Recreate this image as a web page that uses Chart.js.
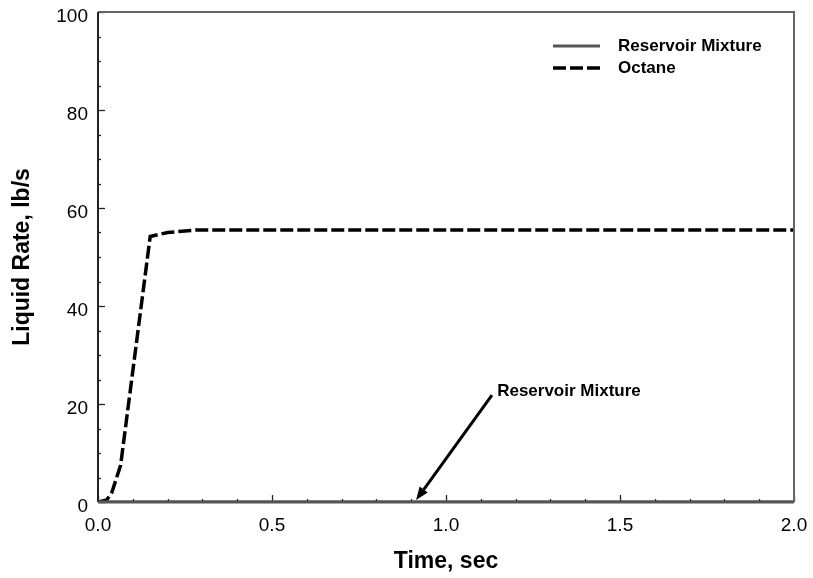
<!DOCTYPE html>
<html lang="en">
  <head>
    <meta charset="UTF-8" />
    <title>Liquid Rate</title>
    <script src="https://cdn.jsdelivr.net/npm/chart.js"></script>
    <style>
      html, body { margin: 0; padding: 0; background: #fff; }
      #wrap { width: 813px; height: 578px; }
    </style>
  </head>
  <body>
    <div id="wrap"><canvas id="myChart" width="813" height="578"></canvas></div>
    <script>
      // data
      const octaneTime = [0, 0.025, 0.04, 0.065, 0.15, 0.2, 0.28, 2.0];
      const octaneRate = [0, 0.4, 2, 7.5, 54.2, 55, 55.5, 55.5];
      const mixtureTime = [0, 2.0];
      const mixtureRate = [0, 0];
      const xTicks = [0, 0.5, 1.0, 1.5, 2.0];
      const yTicks = [0, 20, 40, 60, 80, 100];
      // annotation: label and arrow (data coords)
      const noteText = "Reservoir Mixture";
      const noteAt = [1.147, 22.6];
      const arrowFrom = [1.132, 21.8];
      const arrowTo = [0.914, 0.4];

      const FONT = "'Liberation Sans', Arial, sans-serif";

      function toPoints(xs, ys) {
        return xs.map((x, i) => ({ x: x, y: ys[i] }));
      }

      // frame, inward ticks, legend and annotation
      const decor = {
        id: "decor",
        afterDatasetsDraw(chart) {
          const ctx = chart.ctx;
          const a = chart.chartArea;
          const xs = chart.scales.x;
          const ys = chart.scales.y;
          ctx.save();

          // ticks (inward)
          ctx.strokeStyle = "#222";
          ctx.lineWidth = 1.3;
          for (let v = 0; v <= 2.0001; v += 0.1) {
            const px = Math.round(xs.getPixelForValue(v)) + 0.5;
            const major = Math.abs(v * 2 - Math.round(v * 2)) < 1e-6;
            ctx.beginPath();
            ctx.moveTo(px, a.bottom);
            ctx.lineTo(px, a.bottom - (major ? 7 : 3));
            ctx.stroke();
          }
          for (let v = 0; v <= 100; v += 5) {
            const py = Math.round(ys.getPixelForValue(v)) + 0.5;
            const major = v % 20 === 0;
            ctx.beginPath();
            ctx.moveTo(a.left, py);
            ctx.lineTo(a.left + (major ? 7 : 3), py);
            ctx.stroke();
          }

          // frame
          ctx.lineWidth = 2;
          ctx.strokeStyle = "#666";
          ctx.beginPath();
          ctx.moveTo(a.left, a.top);
          ctx.lineTo(a.right, a.top);
          ctx.lineTo(a.right, a.bottom);
          ctx.stroke();
          ctx.strokeStyle = "#222";
          ctx.beginPath();
          ctx.moveTo(a.left, a.top);
          ctx.lineTo(a.left, a.bottom);
          ctx.stroke();
          ctx.strokeStyle = "#555";
          ctx.lineWidth = 3;
          ctx.beginPath();
          ctx.moveTo(a.left, a.bottom);
          ctx.lineTo(a.right, a.bottom);
          ctx.stroke();

          // legend
          const items = chart.data.datasets;
          ctx.font = "bold 17px " + FONT;
          ctx.textBaseline = "middle";
          items.forEach((ds, i) => {
            const y = 46 + i * 22;
            ctx.strokeStyle = ds.borderColor;
            ctx.lineWidth = ds.borderWidth;
            ctx.setLineDash(ds.borderDash || []);
            ctx.beginPath();
            ctx.moveTo(553, y);
            ctx.lineTo(600, y);
            ctx.stroke();
            ctx.setLineDash([]);
            ctx.fillStyle = "#000";
            ctx.fillText(ds.label, 618, y);
          });

          // annotation
          const tx = xs.getPixelForValue(noteAt[0]);
          const ty = ys.getPixelForValue(noteAt[1]);
          ctx.fillText(noteText, tx, ty);
          const x1 = xs.getPixelForValue(arrowFrom[0]);
          const y1 = ys.getPixelForValue(arrowFrom[1]);
          const x2 = xs.getPixelForValue(arrowTo[0]);
          const y2 = ys.getPixelForValue(arrowTo[1]);
          const ang = Math.atan2(y2 - y1, x2 - x1);
          const hl = 13, hw = 5;
          ctx.strokeStyle = "#000";
          ctx.lineWidth = 3;
          ctx.beginPath();
          ctx.moveTo(x1, y1);
          ctx.lineTo(x2 - Math.cos(ang) * hl, y2 - Math.sin(ang) * hl);
          ctx.stroke();
          ctx.fillStyle = "#000";
          ctx.beginPath();
          ctx.moveTo(x2, y2);
          ctx.lineTo(x2 - Math.cos(ang) * hl - Math.sin(ang) * hw, y2 - Math.sin(ang) * hl + Math.cos(ang) * hw);
          ctx.lineTo(x2 - Math.cos(ang) * hl + Math.sin(ang) * hw, y2 - Math.sin(ang) * hl - Math.cos(ang) * hw);
          ctx.closePath();
          ctx.fill();

          ctx.restore();
        },
      };

      function drawChart() {
        const ctx = document.getElementById("myChart");
        const data = {
          datasets: [
            {
              label: "Reservoir Mixture",
              data: toPoints(mixtureTime, mixtureRate),
              borderColor: "#555",
              borderWidth: 3,
              pointRadius: 0,
              tension: 0,
            },
            {
              label: "Octane",
              data: toPoints(octaneTime, octaneRate),
              borderColor: "#000",
              borderWidth: 3.5,
              borderDash: [13, 4],
              pointRadius: 0,
              tension: 0,
            },
          ],
        };
        const options = {
          responsive: false,
          animation: false,
          layout: { padding: { top: 12, right: 19, left: 0, bottom: 0 } },
          plugins: { legend: { display: false }, tooltip: { enabled: false } },
          scales: {
            x: {
              type: "linear",
              min: 0,
              max: 2.0,
              afterFit: (s) => { s.height = 76; s.paddingLeft = 0; s.paddingRight = 0; },
              afterBuildTicks: (s) => { s.ticks = xTicks.map((v) => ({ value: v })); },
              grid: { display: false, drawTicks: false },
              border: { display: false },
              ticks: {
                padding: 12,
                color: "#000",
                font: { family: FONT, size: 19 },
                callback: (v) => v.toFixed(1),
              },
              title: {
                display: true,
                text: "Time, sec",
                color: "#000",
                font: { family: FONT, size: 23, weight: "bold" },
                padding: { top: 0, bottom: 3 },
              },
            },
            y: {
              min: 0,
              max: 100,
              afterFit: (s) => { s.width = 98; s.paddingTop = 0; s.paddingBottom = 0; },
              afterBuildTicks: (s) => { s.ticks = yTicks.map((v) => ({ value: v })); },
              grid: { display: false, drawTicks: false },
              border: { display: false },
              ticks: {
                padding: 10,
                labelOffset: 5,
                color: "#000",
                font: { family: FONT, size: 19 },
              },
              title: {
                display: true,
                text: "Liquid Rate, lb/s",
                color: "#000",
                font: { family: FONT, size: 23, weight: "bold" },
                padding: { top: 9, bottom: 0 },
              },
            },
          },
        };
        new Chart(ctx, { type: "line", data: data, options: options, plugins: [decor] });
      }
      drawChart();
    </script>
  </body>
</html>
